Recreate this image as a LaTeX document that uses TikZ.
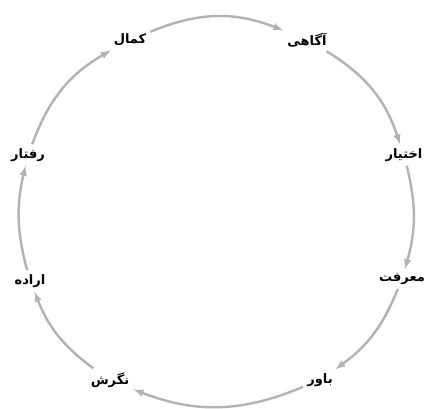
\documentclass[tikz,border=0pt]{standalone}
\usepackage{fontspec}
\newfontfamily\arabicfont[Script=Arabic]{DejaVu Sans}
\TeXXeTstate=1
\tikzset{
  stage/.style={font=\arabicfont\bfseries\fontsize{13}{15}\selectfont, inner sep=4pt},
  cyc/.style={->, line width=2.4pt, draw=black!30}
}
\begin{document}
\begin{tikzpicture}[>=latex, x=1pt, y=1pt]
\useasboundingbox (0,0) rectangle (438,408);
\node[stage] (kamal)    at (130,368) {\beginR کمال\endR};
\node[stage] (agahi)    at (307,368) {\beginR آگاهی\endR};
\node[stage] (ekhtiar)  at (404,253) {\beginR اختیار\endR};
\node[stage] (marefat)  at (402,129) {\beginR معرفت\endR};
\node[stage] (bavar)    at (320,28)  {\beginR باور\endR};
\node[stage] (negaresh) at (110,28)  {\beginR نگرش\endR};
\node[stage] (eradeh)   at (30,127)  {\beginR اراده\endR};
\node[stage] (raftar)   at (28,253)  {\beginR رفتار\endR};
% chain of stages, clockwise
\draw[cyc] (kamal) to[bend left=22] (agahi);
\draw[cyc] (agahi) to[bend left=20] (ekhtiar);
\draw[cyc] (ekhtiar) to[bend left=15] (marefat);
\draw[cyc] (marefat) to[bend left=16] (bavar);
\draw[cyc] (bavar) to[bend left=22] (negaresh);
\draw[cyc] (negaresh) to[bend left=16] (eradeh);
\draw[cyc] (eradeh) to[bend left=14] (raftar);
\draw[cyc] (raftar) to[bend left=20] (kamal);
\end{tikzpicture}
\end{document}
